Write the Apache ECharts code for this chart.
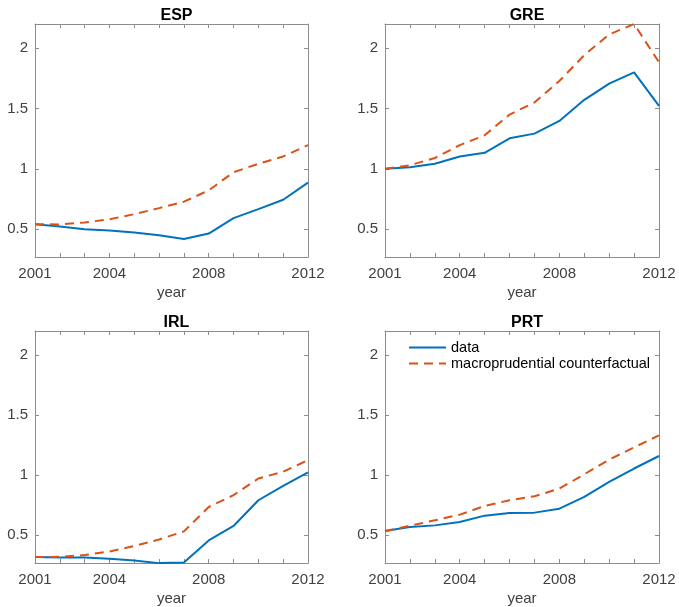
<!DOCTYPE html>
<html>
<head>
<meta charset="utf-8">
<script src="https://cdn.jsdelivr.net/npm/echarts@6/dist/echarts.min.js"></script>
<style>
  html, body { margin: 0; padding: 0; background: #fff; }
  #chart { width: 679px; height: 607px; }
</style>
</head>
<body>
<div id="chart"></div>
<script>
// years on the x axis
var years = [2001, 2002, 2003, 2004, 2005, 2006, 2007, 2008, 2009, 2010, 2011, 2012];
var xLabels = [2001, 2004, 2008, 2012];
var yLabels = [0.5, 1, 1.5, 2];
var countries = ["ESP", "GRE", "IRL", "PRT"];

// data series (blue, solid)
var espData = [0.542, 0.522, 0.50, 0.489, 0.472, 0.45, 0.419, 0.464, 0.592, 0.667, 0.744, 0.886];
var greData = [1.0, 1.014, 1.042, 1.103, 1.133, 1.253, 1.292, 1.397, 1.572, 1.706, 1.80, 1.522];
var irlData = [0.319, 0.316, 0.316, 0.305, 0.291, 0.269, 0.274, 0.458, 0.578, 0.792, 0.912, 1.023];
var prtData = [0.536, 0.569, 0.583, 0.611, 0.664, 0.686, 0.689, 0.722, 0.82, 0.945, 1.056, 1.16];

// macroprudential counterfactual (orange, dashed)
var espCf = [0.542, 0.54, 0.556, 0.583, 0.625, 0.675, 0.728, 0.822, 0.972, 1.042, 1.103, 1.197];
var greCf = [1.0, 1.03, 1.09, 1.197, 1.278, 1.45, 1.55, 1.728, 1.942, 2.114, 2.2, 1.883];
var irlCf = [0.319, 0.322, 0.336, 0.366, 0.411, 0.466, 0.533, 0.736, 0.834, 0.973, 1.029, 1.126];
var prtCf = [0.536, 0.58, 0.625, 0.672, 0.745, 0.792, 0.825, 0.889, 1.008, 1.13, 1.232, 1.332];

var dataSets = [espData, greData, irlData, prtData];
var cfSets = [espCf, greCf, irlCf, prtCf];

var font = "'Liberation Sans', Arial, Helvetica, sans-serif";
var boxColor = "#8c8c8c";
var labelColor = "#404040";

// subplot boxes
var grids = [
  { left: 35, top: 24, width: 273, height: 233 },
  { left: 385, top: 24, width: 274, height: 233 },
  { left: 35, top: 331, width: 273, height: 232 },
  { left: 385, top: 331, width: 274, height: 232 }
];

function zip(ys) {
  return years.map(function (y, i) { return [y, ys[i]]; });
}

var titles = [], xAxes = [], yAxes = [], series = [];
grids.forEach(function (g, i) {
  titles.push({
    text: countries[i],
    left: g.left + g.width / 2,
    top: g.top - 21,
    textAlign: "center",
    textStyle: { fontFamily: font, fontSize: 16, fontWeight: "bold", color: "#000" }
  });
  // bottom x axis
  xAxes.push({
    type: "value", gridIndex: i, min: 2001, max: 2012,
    name: "year", nameLocation: "middle", nameGap: 28,
    nameTextStyle: { fontFamily: font, fontSize: 15, color: labelColor },
    axisLine: { onZero: false, lineStyle: { color: boxColor, width: 1 } },
    axisTick: { inside: true, length: 4, customValues: years, lineStyle: { color: boxColor } },
    axisLabel: {
      customValues: xLabels, margin: 9, fontFamily: font, fontSize: 15, color: labelColor,
      formatter: function (v) { return String(v); }
    },
    splitLine: { show: false }
  });
  // top x axis (box)
  xAxes.push({
    type: "value", gridIndex: i, min: 2001, max: 2012, position: "top",
    axisLine: { onZero: false, lineStyle: { color: boxColor, width: 1 } },
    axisTick: { inside: true, length: 4, customValues: years, lineStyle: { color: boxColor } },
    axisLabel: { show: false },
    splitLine: { show: false }
  });
  // left y axis
  yAxes.push({
    type: "value", gridIndex: i, min: 0.27, max: 2.2,
    axisLine: { show: true, onZero: false, lineStyle: { color: boxColor, width: 1 } },
    axisTick: { show: true, inside: true, length: 4, customValues: yLabels, lineStyle: { color: boxColor } },
    axisLabel: { customValues: yLabels, margin: 7, fontFamily: font, fontSize: 15, color: labelColor },
    splitLine: { show: false }
  });
  // right y axis (box)
  yAxes.push({
    type: "value", gridIndex: i, min: 0.27, max: 2.2, position: "right",
    axisLine: { show: true, onZero: false, lineStyle: { color: boxColor, width: 1 } },
    axisTick: { show: true, inside: true, length: 4, customValues: yLabels, lineStyle: { color: boxColor } },
    axisLabel: { show: false },
    splitLine: { show: false }
  });
  series.push({
    name: "data", type: "line", xAxisIndex: i * 2, yAxisIndex: i * 2,
    data: zip(dataSets[i]), symbol: "none", animation: false,
    lineStyle: { color: "#0072BD", width: 2 }, itemStyle: { color: "#0072BD" }
  });
  series.push({
    name: "macroprudential counterfactual", type: "line", xAxisIndex: i * 2, yAxisIndex: i * 2,
    data: zip(cfSets[i]), symbol: "none", animation: false,
    lineStyle: { color: "#D95319", width: 2, type: [9, 6] }, itemStyle: { color: "#D95319" }
  });
});

var chart = echarts.init(document.getElementById("chart"), null, { renderer: "canvas" });
chart.setOption({
  backgroundColor: "#fff",
  animation: false,
  title: titles,
  grid: grids,
  xAxis: xAxes,
  yAxis: yAxes,
  legend: {
    data: ["data", "macroprudential counterfactual"],
    orient: "vertical",
    left: 403, top: 335,
    itemWidth: 37, itemHeight: 10, itemGap: 1,
    itemStyle: { opacity: 0 },
    lineStyle: { width: 2 },
    textStyle: { fontFamily: font, fontSize: 14.5, color: "#000" }
  },
  series: series
});
</script>
</body>
</html>
